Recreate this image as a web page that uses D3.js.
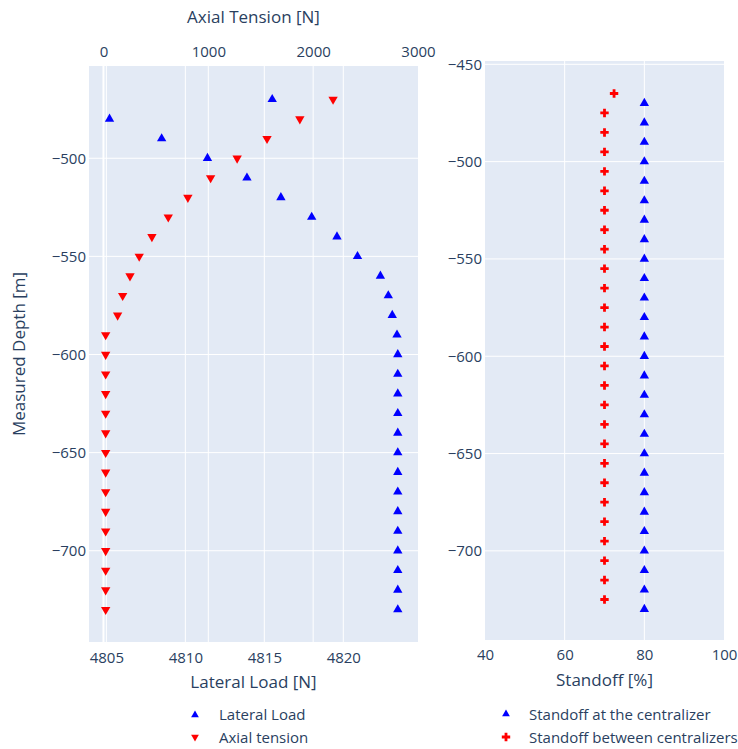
<!DOCTYPE html>
<html>
<head>
<meta charset="utf-8">
<script src="https://cdn.jsdelivr.net/npm/d3@7"></script>
<style>
  html, body { margin: 0; padding: 0; background: #fff; }
  svg { display: block; font-family: "Open Sans", sans-serif; }
</style>
</head>
<body>
<svg id="chart" width="738" height="749"></svg>
<script>
// Measured depth of each centralizer station [m]
const depthCentralizer = [-470, -480, -490, -500, -510, -520, -530, -540, -550, -560, -570, -580, -590,
  -600, -610, -620, -630, -640, -650, -660, -670, -680, -690, -700, -710, -720, -730];

// Lateral load at the centralizer [N]
const lateralLoad = [4815.5, 4805.2, 4808.5, 4811.4, 4813.9, 4816.05, 4818.0, 4819.6, 4820.9, 4822.35,
  4822.85, 4823.1, 4823.4, 4823.45, 4823.45, 4823.45, 4823.45, 4823.45, 4823.45, 4823.45, 4823.45,
  4823.45, 4823.45, 4823.45, 4823.45, 4823.45, 4823.45];

// Axial tension [N]
const axialTension = [2190, 1873, 1560, 1275, 1022, 805, 618, 462, 341, 253, 183, 135, 21,
  21, 21, 21, 21, 21, 21, 21, 21, 21, 21, 21, 21, 21, 21];

// Standoff at the centralizers [%]
const standoffAt = [80, 80, 80, 80, 80, 80, 80, 80, 80, 80, 80, 80, 80, 80, 80, 80, 80, 80, 80, 80,
  80, 80, 80, 80, 80, 80, 80];

// Standoff midway between centralizers [%]
const depthBetween = [-465, -475, -485, -495, -505, -515, -525, -535, -545, -555, -565, -575, -585,
  -595, -605, -615, -625, -635, -645, -655, -665, -675, -685, -695, -705, -715, -725];
const standoffBetween = [72.4, 70, 70, 70, 70, 70, 70, 70, 70, 70, 70, 70, 70, 70, 70, 70, 70, 70, 70,
  70, 70, 70, 70, 70, 70, 70, 70];

// Axis ticks
const lateralTicks = [4805, 4810, 4815, 4820];
const tensionTicks = [0, 1000, 2000, 3000];
const depthTicksLeft = [-500, -550, -600, -650, -700];
const depthTicksRight = [-450, -500, -550, -600, -650, -700];
const standoffTicks = [40, 60, 80, 100];

const TEXT = "#2a3f5f";
const BG = "#E3EAF5";
const TICK_FS = "15px";
const TITLE_FS = "17px";
const svg = d3.select("#chart");

const triUp = d3.symbol().type(d3.symbolTriangle).size(38);
const cross = "M-4.2,-1.4H-1.4V-4.2H1.4V-1.4H4.2V1.4H1.4V4.2H-1.4V1.4H-4.2Z";

// ---------- Left panel: lateral load / axial tension ----------
const L = { x0: 89, x1: 418, y0: 66, y1: 642 };
const xLat = d3.scaleLinear().domain([4803.9, 4824.73]).range([L.x0, L.x1]);
const xTen = d3.scaleLinear().domain([-138, 3000]).range([L.x0, L.x1]);
const yL = d3.scaleLinear().domain([-453, -746.5]).range([L.y0, L.y1]);

const gL = svg.append("g");
gL.append("rect").attr("x", L.x0).attr("y", L.y0)
  .attr("width", L.x1 - L.x0).attr("height", L.y1 - L.y0).attr("fill", BG);

// gridlines
gL.append("g").selectAll("line").data(depthTicksLeft).join("line")
  .attr("x1", L.x0).attr("x2", L.x1).attr("y1", d => yL(d)).attr("y2", d => yL(d))
  .attr("stroke", "#fff").attr("stroke-width", 1);
gL.append("g").selectAll("line").data(lateralTicks).join("line")
  .attr("x1", d => xLat(d)).attr("x2", d => xLat(d)).attr("y1", L.y0).attr("y2", L.y1)
  .attr("stroke", "#fff").attr("stroke-width", 1);
gL.append("g").selectAll("line").data(tensionTicks.filter(d => d > 0 && d < 3000)).join("line")
  .attr("x1", d => xTen(d)).attr("x2", d => xTen(d)).attr("y1", L.y0).attr("y2", L.y1)
  .attr("stroke", "#fff").attr("stroke-width", 1);
// zero line of the tension axis
gL.append("line").attr("x1", xTen(0)).attr("x2", xTen(0)).attr("y1", L.y0).attr("y2", L.y1)
  .attr("stroke", "#fff").attr("stroke-width", 2);

// axes
const minus = d => d3.format("")(d).replace("-", "\u2212");
const axL = d3.axisLeft(yL).tickValues(depthTicksLeft).tickSize(0).tickPadding(3).tickFormat(minus);
const axLat = d3.axisBottom(xLat).tickValues(lateralTicks).tickSize(0).tickPadding(10).tickFormat(d3.format("d"));
const axTen = d3.axisTop(xTen).tickValues(tensionTicks).tickSize(0).tickPadding(9).tickFormat(d3.format("d"));

function styleAxis(g) {
  g.select(".domain").remove();
  g.selectAll("text").attr("fill", TEXT).style("font-size", TICK_FS).style("font-family", '"Open Sans", sans-serif');
}
gL.append("g").attr("transform", `translate(${L.x0},0)`).call(axL).call(styleAxis);
gL.append("g").attr("transform", `translate(0,${L.y1})`).call(axLat).call(styleAxis);
gL.append("g").attr("transform", `translate(0,${L.y0})`).call(axTen).call(styleAxis);

// markers
gL.append("g").selectAll("path").data(depthCentralizer).join("path")
  .attr("d", triUp)
  .attr("transform", (d, i) => `translate(${xLat(lateralLoad[i])},${yL(d)})`)
  .attr("fill", "blue");
gL.append("g").selectAll("path").data(depthCentralizer).join("path")
  .attr("d", triUp)
  .attr("transform", (d, i) => `translate(${xTen(axialTension[i])},${yL(d)}) rotate(180)`)
  .attr("fill", "red");

// titles
svg.append("text").attr("x", (L.x0 + L.x1) / 2).attr("y", 23).attr("text-anchor", "middle")
  .attr("fill", TEXT).style("font-size", TITLE_FS).text("Axial Tension [N]");
svg.append("text").attr("x", (L.x0 + L.x1) / 2).attr("y", 688).attr("text-anchor", "middle")
  .attr("fill", TEXT).style("font-size", TITLE_FS).text("Lateral Load [N]");
svg.append("text").attr("transform", `translate(25,${(L.y0 + L.y1) / 2}) rotate(-90)`)
  .attr("text-anchor", "middle").attr("fill", TEXT).style("font-size", TITLE_FS).text("Measured Depth [m]");

// legend
const legTri = d3.symbol().type(d3.symbolTriangle).size(26);
const legL = svg.append("g");
legL.append("path").attr("d", legTri).attr("transform", "translate(195,715)").attr("fill", "blue");
legL.append("path").attr("d", legTri).attr("transform", "translate(195,737) rotate(180)").attr("fill", "red");
legL.append("text").attr("x", 219).attr("y", 720).attr("fill", TEXT).style("font-size", TICK_FS).text("Lateral Load");
legL.append("text").attr("x", 219).attr("y", 742.5).attr("fill", TEXT).style("font-size", TICK_FS).text("Axial tension");

// ---------- Right panel: standoff ----------
const R = { x0: 485, x1: 724, y0: 61, y1: 640 };
const xS = d3.scaleLinear().domain([40, 100]).range([R.x0, R.x1]);
const yR = d3.scaleLinear().domain([-448.3, -745.8]).range([R.y0, R.y1]);

const gR = svg.append("g");
gR.append("rect").attr("x", R.x0).attr("y", R.y0)
  .attr("width", R.x1 - R.x0).attr("height", R.y1 - R.y0).attr("fill", BG);
gR.append("g").selectAll("line").data(depthTicksRight).join("line")
  .attr("x1", R.x0).attr("x2", R.x1).attr("y1", d => yR(d)).attr("y2", d => yR(d))
  .attr("stroke", "#fff").attr("stroke-width", 1);
gR.append("g").selectAll("line").data(standoffTicks.filter(d => d > 40 && d < 100)).join("line")
  .attr("x1", d => xS(d)).attr("x2", d => xS(d)).attr("y1", R.y0).attr("y2", R.y1)
  .attr("stroke", "#fff").attr("stroke-width", 1);

const axR = d3.axisLeft(yR).tickValues(depthTicksRight).tickSize(0).tickPadding(3).tickFormat(minus);
const axS = d3.axisBottom(xS).tickValues(standoffTicks).tickSize(0).tickPadding(9).tickFormat(d3.format("d"));
gR.append("g").attr("transform", `translate(${R.x0},0)`).call(axR).call(styleAxis);
gR.append("g").attr("transform", `translate(0,${R.y1})`).call(axS).call(styleAxis);

gR.append("g").selectAll("path").data(depthCentralizer).join("path")
  .attr("d", triUp)
  .attr("transform", (d, i) => `translate(${xS(standoffAt[i])},${yR(d)})`)
  .attr("fill", "blue");
gR.append("g").selectAll("path").data(depthBetween).join("path")
  .attr("d", cross)
  .attr("transform", (d, i) => `translate(${xS(standoffBetween[i])},${yR(d)})`)
  .attr("fill", "red");

svg.append("text").attr("x", (R.x0 + R.x1) / 2).attr("y", 686).attr("text-anchor", "middle")
  .attr("fill", TEXT).style("font-size", TITLE_FS).text("Standoff [%]");

const legR = svg.append("g");
legR.append("path").attr("d", legTri).attr("transform", "translate(506,714)").attr("fill", "blue");
legR.append("path").attr("d", cross).attr("transform", "translate(506,737)").attr("fill", "red");
legR.append("text").attr("x", 529).attr("y", 719.5).attr("fill", TEXT).style("font-size", TICK_FS).text("Standoff at the centralizer");
legR.append("text").attr("x", 529).attr("y", 742.5).attr("fill", TEXT).style("font-size", TICK_FS).text("Standoff between centralizers");
</script>
</body>
</html>
